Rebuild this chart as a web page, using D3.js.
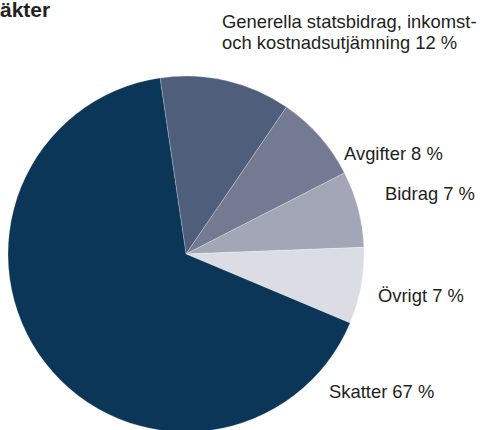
<!DOCTYPE html>
<html>
<head>
<meta charset="utf-8">
<script src="https://cdn.jsdelivr.net/npm/d3@7"></script>
<style>
  html, body { margin: 0; padding: 0; background: #fff; }
  svg { display: block; font-family: "Liberation Sans", Arial, sans-serif; }
</style>
</head>
<body>
<div id="chart"></div>
<script>
// Slices in clockwise order, starting just left of twelve o'clock
const categories = ["Generella statsbidrag, inkomst- och kostnadsutjämning", "Avgifter", "Bidrag", "Övrigt", "Skatter"];
const shares = [12, 8, 7, 7, 67];
const labelLines = [
  ["Generella statsbidrag, inkomst-", "och kostnadsutjämning 12 %"],
  ["Avgifter 8 %"],
  ["Bidrag 7 %"],
  ["Övrigt 7 %"],
  ["Skatter 67 %"]
];
const colors = ["#4f5f7b", "#757a93", "#a3a6b6", "#dcdce4", "#0b3657"];

const width = 482;
const height = 430;
const cx = 186, cy = 254, radius = 178;

const svg = d3.select("#chart")
  .append("svg")
  .attr("width", width)
  .attr("height", height);

// Title is cut off at the left edge in the original
svg.append("text")
  .attr("x", -25.7)
  .attr("y", 17)
  .attr("font-size", 21)
  .attr("font-weight", "bold")
  .attr("fill", "#231f20")
  .text("Intäkter");

const pie = d3.pie()
  .sort(null)
  .value(d => d)
  .startAngle(-8.4 * Math.PI / 180)
  .endAngle(2 * Math.PI - 8.4 * Math.PI / 180);

const arc = d3.arc().innerRadius(0).outerRadius(radius);

const g = svg.append("g").attr("transform", `translate(${cx},${cy})`);

g.selectAll("path")
  .data(pie(shares))
  .enter()
  .append("path")
  .attr("d", arc)
  .attr("fill", (d, i) => colors[i])
  .attr("stroke", "#ffffff")
  .attr("stroke-width", 0.4)
  .attr("stroke-opacity", 0.6);

// Label anchors (left edge, first baseline)
const labelPos = [[222, 27.5], [344, 160], [385, 200], [378, 302], [329, 398]];

const labels = svg.selectAll(".label")
  .data(labelLines)
  .enter()
  .append("text")
  .attr("class", "label")
  .attr("x", (d, i) => labelPos[i][0])
  .attr("y", (d, i) => labelPos[i][1])
  .attr("font-size", 18.4)
  .attr("fill", "#231f20");

labels.selectAll("tspan")
  .data((d, i) => d.map(line => ({ line, i })))
  .enter()
  .append("tspan")
  .attr("x", d => labelPos[d.i][0])
  .attr("dy", (d, j) => j === 0 ? 0 : 21.5)
  .text(d => d.line);
</script>
</body>
</html>
